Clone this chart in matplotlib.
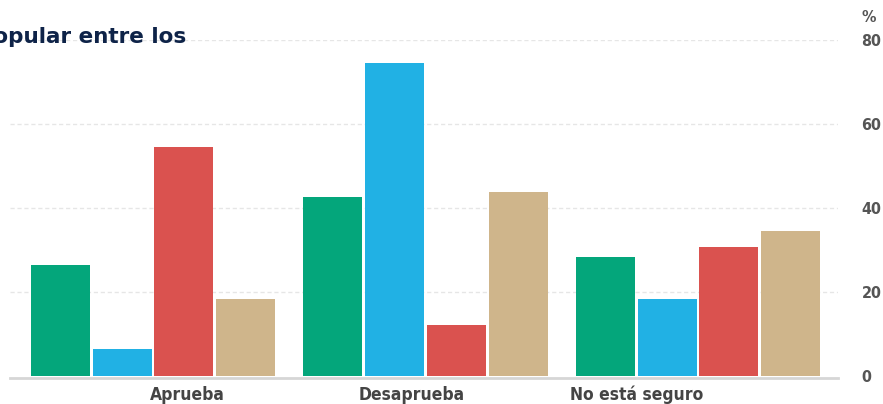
import numpy as np
import matplotlib.pyplot as plt

# data
categories = ['Aprueba', 'Desaprueba', 'No está seguro']
label_pos = [0.125, 0.95, 1.776]   # label x (in group units), as placed in the source
series_green = [26.2, 42.6, 28.3]
series_blue = [6.2, 74.3, 18.1]
series_red = [54.5, 12.1, 30.5]
series_tan = [18.1, 43.8, 34.5]
yticks = [0, 20, 40, 60, 80]

colors = ['#04a67b', '#21b1e4', '#da524f', '#cfb58b']
series = [series_green, series_blue, series_red, series_tan]

fig = plt.figure(figsize=(8.83, 4.04), dpi=100)
ax = fig.add_axes([10 / 883, (404 - 377.6) / 404, 828 / 883, 338.1 / 404])

x = np.arange(len(categories))
pitch = 0.2264
width = 0.2165
for i, (vals, c) in enumerate(zip(series, colors)):
    ax.bar(x + (i - 1.5) * pitch, vals, width=width, color=c, zorder=3)

ax.set_xlim(-0.5248, 2.5138)
ax.set_ylim(-0.5, 80)

for sp in ['top', 'left', 'right']:
    ax.spines[sp].set_visible(False)
ax.spines['bottom'].set_color('#d6d6d6')
ax.spines['bottom'].set_linewidth(2)
ax.spines['bottom'].set_zorder(4)

narrow = dict(family='DejaVu Sans', stretch='condensed', weight='bold')

ax.yaxis.tick_right()
ax.set_yticks(yticks)
ax.set_yticklabels([str(v) for v in yticks], **narrow)
ax.tick_params(axis='y', length=0, pad=17, labelsize=11.5, labelcolor='#555555')
for v in yticks[1:]:
    ax.axhline(v, color='#e6e6e6', lw=1, ls=(0, (3, 2)), zorder=1)

ax.set_xticks(label_pos)
ax.set_xticklabels(categories, **narrow)
ax.tick_params(axis='x', length=0, pad=6, labelsize=12.5, labelcolor='#444444')

fig.text(862 / 883, 1 - 17 / 404, '%', ha='left', va='center', fontsize=11.5,
         color='#555555', **narrow)

# title is cropped at the left edge in the source image
fig.text(186 / 883, 1 - 43 / 404, 'popular entre los', ha='right', va='baseline',
         fontsize=15.5, fontweight='bold', color='#0e2348', family='DejaVu Sans')

fig.savefig('out.png', dpi=100)
